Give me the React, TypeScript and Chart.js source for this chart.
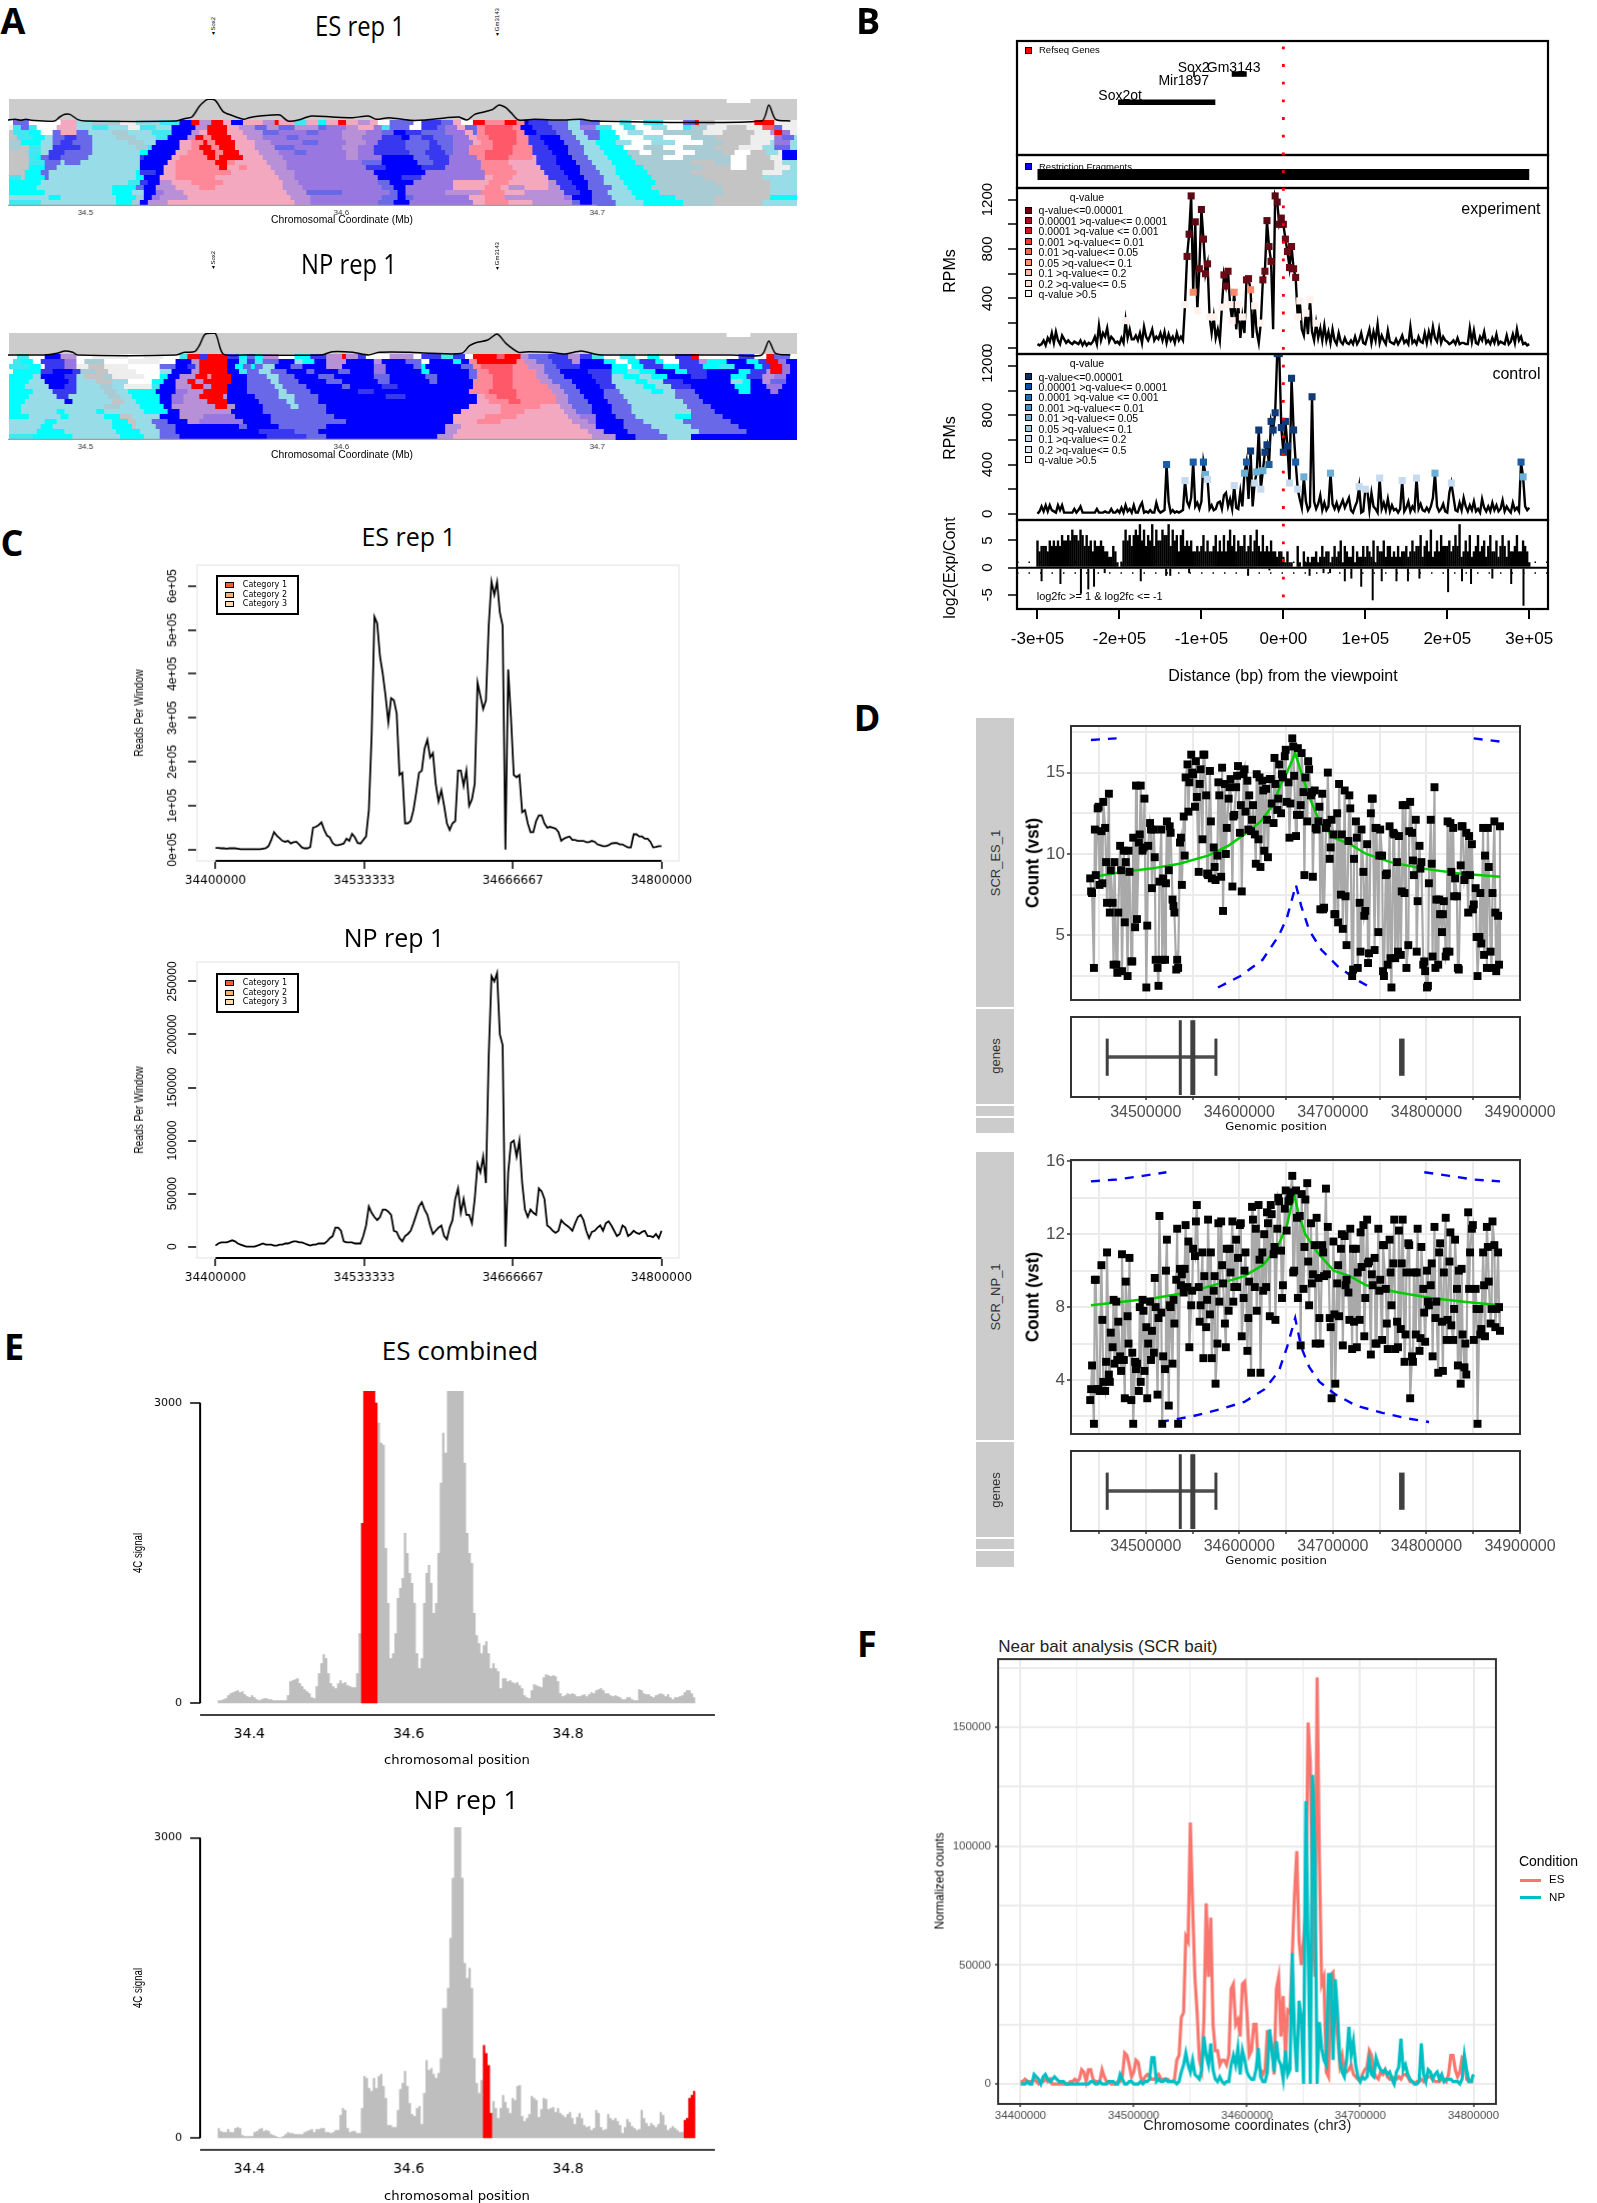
import { useEffect, useRef } from "react"
import { Chart, registerables } from "chart.js"

Chart.register(...registerables)

const SANS = "Liberation Sans"
const WIDE = "DejaVu Sans"
const TITLE = "Open Sans"

// --- panel A: contact map, one string per row, letter + end column
const heatPalette: Record<string, string> = {
  w: "#ffffff", l: "#eeeeee", g: "#c4c4c4", t: "#a9cbd3", a: "#98dce8", m: "#40e8f0", c: "#00ffff",
  b: "#0000ff", d: "#3838f0", e: "#6868e8", p: "#9878e0", q: "#b890d8", k: "#f4a8c0", s: "#ff8898",
  x: "#ff5868", r: "#ff0000", h: "#cccccc",
}
const bandRows = ["h199", "h199", "h181 w187 h199"]
const esRows = [
  "w1e5w13k17a21t28l32a38m43b46r48q51r54k56b59k64q67r68k72m75k78c80k83r85k88q91k93w96e102w104d109e112k114w117r120s125r128s130b131d136e141a144e149w154m157w160m165w170e173r174g178l188r193l199",
  "l1m3e5m7w12k17a21m25a30l33m37a41b47q50r55k58q62e65q68e72q78e80p85q88k92p94m96e101w104d108e110p113k115e118s120x127s129b132d137e141a144p148m152w155m158w162a166w170m172t176l181g186l190x193e195l199",
  "g1m5c8w11e13k17e20a26t30a36m41b46q48k50r55k59q64e68p75e78p84q90p94e97b100d104e110p115k117e118s120x128s130b133d138e142a145e149c153w156a160w165t175l180g188l192q193r195p197l199",
  "g2m6c9a11e14d17e21a27t32a37m40b45q47r49s51r56k60q64p70e73p84q89p94d99b101e104d107e112p116k118s121x128s131d134b139e143a146e149c154w160a165w172t178g187l193p195e198a199",
  "t3c8a11e13d16e21a30t34a37b43k46s49r50s52r57k62q66p74e78p85q90p93d100e106d108e112p117k119s122x128s131d135b140e144a148c153a157w162a168w175t180g187l192a193p197a199",
  "t3g5m8a11d18e21a32t35m36b43k46s48r51s53r57k62q67e72p84q88p92d100e106d109e112p116s122x127s132d136b141e145a149c155w160t165w170t178g184l190a193e197a199",
  "g4t5m8a10d14e21a33c35b42k45s49r52s54r58k63q68p72e75p85q88p92d101e105d110e112p116s120x127s132d137b141e145a150c156t159w162t168w173t180g183w187g191a194l195b199",
  "g5m7c8e10d13e20a33d34b41k43s50r52s53r59k64q69p85q88p94b102e106d111p118s120x126s132k133d138b142e146a151c157t165w170t182w186g192l195b199",
  "g5m9e13a14e18a33b40k42s52r55s57k65q70p89e94b103e107d111p119s126k133d138b143e147a152c158t172g178t182w186g193l195a199",
  "g5c9e12a33b39k42s53r55k58s60k66q70p90d95b104d110p119s127k134d139b144e148a153c160t175g182w186g193l197a199",
  "g4c8e10a32c33d37b39k42s56k67q72p92b105p120s128k135d140b144e149a153c161t172g190l195a199",
  "m3g4c9e10a32c34b38k42s52k68q72p93b99d104p120k122s127k136d141b145e150a154c162t175g190a199",
  "c8a30m33d35b38q41k46s54k69q73p93e96b102p112k121s126k136q138d142b146e150a155c163t178g192a199",
  "c7a26c32e34b37q42k48s52k69q74p94e97b100p112k120s124k126q130k136q139d143b146e152a156c162t180g192a199",
  "c9a26c31a34b37p39q44k70q75e84p96e98b100p110q119s125k130q140d144b147e151a157c164t180g192a199",
  "a10c13a27c32t34b36p38q45k71q76p94e98b100e102p116k120s125q140p142b147e152a158c168t178g192c199",
  "m8a27c31t33b35q40k72q76p93e97b101p117k120s126k132q142e144b147e153a160c170t178g190a199",
]
const npRows = [
  "w2m5w9b13q17w21l30w34l39w43m45r48d50r55d58c60e62c64q68w72c76d80q84r85q88d90w96q102w104d109m112d115w117r123x125r129q131e136d141q144d147m150w154m158w161c164w168d172r174w184d188w191r193e197w199",
  "w1m3c6w8d14p17w19t24w30l38w42b46q48r55b58m60d62m64e68b72a74c77b80q85b92q94b100e104w106b112c114b116s118r128s130q133e137d142q144b150c153w156c159d163c165w169d174q176c181b186c189d191r194p196b199",
  "m5c8w9d14p17l20g24l30w38e42b45d47q48r55b57c59e61c62e64a67b71e74b80q84b92p95b102e104c105b114e117s119x127s131q135e138d144b152c156w157c160d165c169d175c179m183b188c190d192r195p197b199",
  "w1c8d11b16d18t22g25l32w38a41b46q48r55b58m60e63a66e70b75e77b83e86b92p95b104c106b116e118s121x127s133q135e139b146d152c156a159c163b168c171d176b184c187d191q192r195p197b199",
  "c6a8b14d17a19g24t26l34w38c40b43q47r50s51r56b60e65a68e72b78e82b92e96b105e108b116e118s122x127s133q136e140b147d152a155c159a162c166b172d176b182c186d190q193p196b199",
  "c5a9b15d17a22g26a30w36c39b42q45r47q49r56b60e66a68e73b80e84b93e96b106e108b117s122x127s134q137e142b148d152a158c161a165d170b182a185c187b190q192e196b199",
  "c4a10b14d17a23t26a29l36m38b42q46r49q51r55b60e67a69e75b84e86b94d98b117s122x127s136q139e143b149d153a160c163a167d172b183c187b191p195b199",
  "c6a11d17a24t27a30c37b42p45q49r52q52r55b60e68a70e76b88d92b116s121x128s137q140e144b150e154a162c165a168e173b184c187b192p194b199",
  "c5a12d15a25t28a31c38b41p44q48r54q55b62e68a72e78b95d100b118k120s123x128s138q141e145b150e155a168e174b199",
  "c4a14b16a26g29a32c38b41p44q50r55b63e70a72e78b118k121s126x129s138q141e146b151e156a170e175b199",
  "c3a24t28a33c39b41q52r55q57b64e71a73e80b116k124s134k139q142e147b152e157a171e177b199",
  "c3a12c14a22c24a34c40b43q56b64e72e80b114k124s130k140q143e147b152e157a172e178b199",
  "c5a13c15a24c28g31a38b43q49p57b66e82b112k120s128k141q144p148b153e158a168c172e180b199",
  "a9c12a26c30g32a36e40b45q48p59b66e85b112k118s124k142q146p148b155e160a170e182b199",
  "a8c11a26c31g32a37e42b58e60b68e80b110q114k144q148b155e162a172e184b199",
  "a7c14a27c33a38e42b63d72e78b110q113k146q150b156e164a174e186b199",
  "m6c16a28c34a38e43b65d75e80b108q112k147q153b158e166a172b199",
]
const esTraceX = [34.4696, 34.4726, 34.4747, 34.4767, 34.4787, 34.4879, 34.4899, 34.4919, 34.4939, 34.497, 34.5, 34.5355, 34.5386, 34.5416, 34.5446, 34.5477, 34.5507, 34.5538, 34.5568, 34.5619, 34.5639, 34.568, 34.573, 34.576, 34.5791, 34.5832, 34.5882, 34.5964, 34.6045, 34.6106, 34.6136, 34.6187, 34.6268, 34.6329, 34.641, 34.646, 34.6491, 34.6521, 34.6562, 34.6592, 34.6616, 34.6643, 34.6663, 34.6693, 34.6754, 34.6856, 34.6937, 34.6988, 34.7643, 34.7671, 34.7697, 34.7755]
const esTraceY = [3, 5, 2, 5, 2, 0, 12, 20, 20, 4, 0, 0, 7, 12, 45, 65, 62, 28, 18, 5, 10, 15, 18, 18, 0, 3, 15, 12, 10, 15, 5, 10, 2, 3, 10, 12, 3, 20, 28, 35, 48, 40, 25, 3, 5, 3, 5, 0, 0, 48, 5, 0]
const npTraceX = [34.4696, 34.4838, 34.4889, 34.4919, 34.495, 34.497, 34.5355, 34.5386, 34.5426, 34.5446, 34.5467, 34.5507, 34.5538, 34.5619, 34.5923, 34.5964, 34.6045, 34.6106, 34.6147, 34.6268, 34.6349, 34.6471, 34.6501, 34.6531, 34.6572, 34.6609, 34.6643, 34.6693, 34.6734, 34.6815, 34.6876, 34.6937, 34.6988, 34.7018, 34.7526, 34.7643, 34.7671, 34.7697, 34.7755]
const npTraceY = [0, 0, 5, 12, 8, 0, 0, 8, 10, 30, 62, 65, 3, 0, 0, 10, 8, 0, 8, 8, 5, 5, 28, 38, 45, 63, 35, 8, 10, 8, 3, 12, 3, 0, 0, 0, 42, 5, 0]
const hicTicks = [34.5, 34.6, 34.7]

// --- panel B
const bpTicks = [-300000, -200000, -100000, 0, 100000, 200000, 300000]
const bpLabels = ["-3e+05", "-2e+05", "-1e+05", "0e+00", "1e+05", "2e+05", "3e+05"]
const geneStart = [-201700, -63000, -110000]
const geneEnd = [-83000, -44700, -108000]
const geneLane = [0.463, 0.71, 0.71]
const experimentRpm = [
  30, 20, 30, 60, 20, 80, 50, 120, 40, 130, 60, 30, 100, 70, 40, 60, 40, 30, 50, 40,
  30, 60, 20, 50, 20, 40, 30, 50, 90, 30, 180, 60, 120, 90, 160, 50, 90, 70, 40, 50,
  30, 80, 40, 220, 80, 150, 70, 70, 100, 60, 120, 40, 170, 90, 60, 100, 150, 60, 90, 70,
  120, 60, 130, 40, 110, 60, 90, 40, 120, 60, 90, 60, 350, 740, 920, 1230, 450, 1020, 300, 640,
  1120, 880, 600, 680, 250, 120, 250, 80, 150, 60, 330, 590, 500, 620, 350, 220, 450, 150, 350, 80,
  250, 120, 550, 560, 470, 80, 340, 130, 40, 200, 550, 620, 1030, 820, 700, 150, 1230, 1180, 1000, 1050,
  1000, 880, 780, 650, 820, 640, 570, 250, 380, 150, 100, 280, 110, 390, 130, 60, 200, 80, 160, 60,
  180, 60, 130, 40, 150, 60, 30, 120, 50, 30, 80, 40, 30, 60, 30, 90, 30, 60, 120, 40,
  30, 90, 150, 40, 130, 60, 190, 40, 100, 60, 30, 140, 50, 40, 30, 70, 30, 60, 100, 40,
  60, 30, 170, 40, 60, 30, 90, 50, 40, 120, 40, 130, 60, 170, 80, 50, 150, 40, 90, 60,
  50, 30, 40, 60, 30, 80, 30, 40, 40, 30, 30, 160, 50, 140, 40, 30, 90, 60, 130, 40,
  60, 30, 80, 40, 110, 30, 50, 40, 30, 100, 30, 50, 110, 40, 150, 60, 90, 30, 40, 20, 30,
]
const controlRpm = [
  0, 20, 60, 20, 70, 20, 70, 30, 20, 10, 70, 30, 70, 10, 10, 10, 10, 10, 40, 10,
  30, 60, 10, 10, 10, 10, 10, 10, 10, 40, 10, 10, 10, 20, 10, 10, 40, 10, 10, 30,
  10, 50, 10, 70, 20, 40, 10, 70, 10, 10, 60, 90, 10, 20, 10, 30, 10, 10, 90, 30,
  10, 20, 30, 400, 100, 10, 30, 10, 20, 10, 20, 30, 270, 100, 60, 130, 420, 60, 90, 40,
  100, 420, 320, 280, 40, 70, 30, 40, 90, 100, 40, 150, 170, 60, 120, 40, 230, 50, 40, 180,
  60, 330, 420, 120, 510, 60, 250, 340, 680, 200, 350, 500, 560, 400, 750, 680, 820, 1300, 1300, 700,
  500, 750, 550, 250, 1100, 680, 420, 200, 120, 50, 300, 100, 30, 60, 950, 100, 40, 80, 150, 30,
  90, 30, 60, 330, 80, 40, 90, 30, 70, 110, 50, 90, 130, 30, 10, 60, 100, 220, 10, 20,
  200, 190, 30, 170, 60, 40, 10, 290, 40, 90, 30, 120, 20, 70, 30, 40, 10, 40, 270, 20,
  50, 100, 20, 60, 30, 290, 40, 80, 30, 20, 50, 20, 60, 130, 330, 60, 20, 40, 80, 20,
  10, 170, 250, 140, 30, 20, 90, 30, 130, 60, 20, 70, 30, 100, 20, 40, 10, 120, 50, 20,
  60, 20, 90, 30, 70, 20, 40, 110, 20, 60, 30, 10, 90, 30, 50, 20, 420, 300, 60, 30, 50,
]
const logRatio = [
  5, 3, 4, 4, 4, 3, 5, 4, 5, 4, 5, 4, 6, 5, 5, 6, 5, 7, 6, 6,
  5, 7, 6, 4, 6, 4, 5, 3, 5, 4, 4, 5, 4, 3, 3, 2, 2, 4, 3, 1,
  0, 1, 5, 7, 5, 6, 4, 6, 7, 6, 8, 5, 7, 4, 6, 5, 8, 4, 7, 5,
  5, 7, 6, 6, 8, 4, 7, 5, 6, 3, 6, 7, 4, 5, 4, 5, 3, 3, 4, 3,
  4, 6, 3, 5, 3, 3, 4, 6, 3, 5, 3, 6, 3, 5, 7, 4, 6, 3, 5, 4,
  4, 6, 3, 4, 6, 3, 5, 7, 4, 3, 6, 3, 4, 3, 5, 3, 3, 2, 3, 3,
  2, 1, 3, 1, 1, 0, 0, 4, 1, 0, 3, 1, 2, 1, 2, 2, 3, 1, 2, 4,
  2, 3, 3, 1, 2, 4, 2, 3, 5, 1, 4, 3, 2, 2, 4, 1, 3, 2, 2, 4,
  2, 4, 3, 2, 5, 1, 4, 3, 3, 5, 2, 4, 4, 2, 3, 2, 4, 2, 3, 3,
  4, 2, 3, 5, 3, 4, 4, 6, 2, 4, 5, 3, 7, 2, 3, 5, 3, 6, 4, 4,
  4, 5, 3, 4, 6, 4, 8, 2, 3, 5, 3, 6, 2, 3, 4, 6, 3, 4, 5, 2,
  4, 6, 3, 3, 5, 2, 4, 6, 4, 2, 5, 3, 3, 4, 6, 3, 3, 5, 4, 3, 1,
]
const logDipX = [-295000, -272000, -247000, -238000, -231000, -218000, -174000, -143000, -138000, -115000, -43000, -17000, 32000, 49000, 57000, 75000, 83000, 95000, 109000, 120000, 138000, 152000, 166000, 201000, 218000, 229000, 255000, 278000, 293000]
const logDipY = [-2.5, -3, -4.8, -4, -3.5, -1, -2.5, -1.5, -1.5, -1, -1.5, -0.5, -1.5, -1, -1, -2.5, -2, -3.5, -6, -2.5, -2.5, -2.5, -2, -4.5, -2.5, -3, -2, -3, -7]
const qLabels = ["q-value<=0.00001", "0.00001 >q-value<= 0.0001", "0.0001 >q-value <= 0.001", "0.001 >q-value<= 0.01", "0.01 >q-value<= 0.05", "0.05 >q-value<= 0.1", "0.1 >q-value<= 0.2", "0.2 >q-value<= 0.5", "q-value >0.5"]
const qReds = ["#67000d", "#a50f15", "#cb181d", "#ef3b2c", "#fb6a4a", "#fc9272", "#fcbba1", "#fee0d2", "#fff5f0"]
const qBlues = ["#08306b", "#08519c", "#2171b5", "#4292c6", "#6baed6", "#9ecae1", "#c6dbef", "#deebf7", "#f7fbff"]

// --- panel C, in thousands of reads
const windowTicks = [34400000, 34533333, 34666667, 34800000]
const esReads = [
  4, 4, 3, 3, 2, 3, 3, 3, 2, 1, 1, 1, 1, 1, 1, 1, 1, 2, 3, 8,
  22, 40, 32, 26, 20, 18, 20, 14, 17, 18, 12, 5, 3, 3, 6, 50, 52, 56, 62, 45,
  32, 28, 15, 10, 10, 12, 14, 25, 20, 36, 28, 15, 14, 22, 30, 90, 260, 530, 515, 440,
  400, 350, 290, 345, 340, 310, 170, 175, 60, 60, 65, 90, 130, 175, 180, 230, 250, 210, 220, 150,
  110, 135, 100, 60, 45, 60, 65, 180, 180, 145, 180, 100, 115, 150, 380, 350, 320, 340, 510, 610,
  580, 610, 540, 510, 0, 410, 300, 170, 165, 170, 85, 90, 60, 40, 40, 65, 78, 78, 60, 50,
  52, 50, 48, 40, 20, 25, 28, 30, 22, 22, 20, 20, 20, 17, 17, 20, 18, 12, 10, 8,
  8, 10, 14, 15, 15, 12, 12, 8, 5, 5, 35, 35, 30, 30, 25, 25, 18, 5, 6, 8, 8,
]
const npReads = [
  1, 3, 4, 4, 4, 5, 6, 5, 3, 2, 1, 0, 0, 0, 0, 1, 2, 3, 2, 2,
  2, 1, 1, 2, 2, 3, 3, 4, 5, 5, 4, 4, 3, 2, 1, 2, 2, 3, 3, 3,
  5, 8, 10, 18, 18, 15, 5, 4, 4, 4, 3, 3, 3, 10, 20, 38, 32, 28, 25, 28,
  35, 35, 33, 30, 15, 14, 8, 5, 10, 12, 15, 22, 30, 38, 42, 35, 30, 20, 12, 15,
  18, 20, 10, 7, 18, 25, 45, 55, 32, 45, 30, 30, 22, 45, 78, 70, 85, 60, 180, 255,
  250, 258, 200, 190, 0, 70, 98, 100, 85, 100, 60, 35, 28, 35, 32, 30, 55, 52, 45, 20,
  18, 15, 13, 15, 25, 22, 20, 18, 15, 22, 28, 30, 25, 15, 8, 14, 15, 18, 20, 15,
  22, 24, 20, 15, 10, 12, 20, 18, 10, 12, 15, 13, 12, 14, 15, 10, 10, 9, 12, 8, 15,
]

// --- panel D
const countTicks = [34450000, 34500000, 34550000, 34600000, 34650000, 34700000, 34750000, 34800000, 34850000, 34900000]
const esCounts = [
  8.5, 7.6, 3.0, 8.7, 12.8, 8.1, 11.4, 13.2, 11.6, 7.0, 13.7,
  9.0, 7.0, 9.5, 3.2, 6.4, 10.5, 2.8, 10.2, 9.5, 2.5, 8.9, 3.4, 11.0, 5.5, 6.0, 10.7, 14.2, 10.2, 13.4, 1.8,
  10.5, 11.9, 7.9, 11.5, 3.5, 3.0, 8.3, 11.5, 8.5, 3.5, 12.0, 9.0, 11.3, 7.2, 6.4, 2.9, 3.0, 10.7, 8.1, 12.3,
  14.7, 15.5, 14.4, 16.1, 14.9, 12.9, 13.5, 8.9, 15.2, 10.9,
  16.1, 13.6, 8.7, 15.1, 8.5, 10.4, 8.4, 9.9, 13.6, 8.6,
  6.5, 14.3, 11.6, 13.4, 14.6, 8.0, 12.4, 14.1, 15.4, 11.3,
  7.7, 14.9, 12.6, 14.5, 13.6, 11.4, 13.0, 11.2, 14.9, 10.9,
  9.2, 14.5, 10.2, 14.0, 9.8, 14.6, 13.1, 11.9, 14.3, 12.7,
  15.5, 12.5, 14.7, 16.0, 13.2, 14.4, 13.1, 17.1, 14.8, 11.1,
  16.5, 12.4, 16.2, 13.8, 14.7, 12.0, 15.2, 13.6, 8.6, 13.9,
  11.5, 12.0, 6.6, 13.7, 6.7, 11.6, 15.0, 9.7, 12.1, 11.2,
  6.3, 12.5, 14.3, 7.5, 5.4, 13.9, 4.4, 10.8, 12.8, 2.5,
  9.7, 12.0, 3.0, 7.0, 11.5, 8.9, 6.5, 10.6, 3.9, 12.5,
  13.4, 4.1, 11.6, 5.2, 11.5, 9.9, 2.5, 8.7, 3.2, 11.7,
  1.8, 11.3, 3.6, 9.5, 11.1, 3.8, 13.0, 7.6, 3.0, 4.4,
  13.2, 11.3, 8.7, 12.1, 7.1, 10.5, 9.5, 3.2, 2.8, 1.8,
  8.2, 12.1, 3.7, 14.1, 7.2, 3.2, 6.3, 5.2, 7.1, 3.7,
  12.0, 4.0, 8.9, 11.6, 8.5, 7.4, 2.9, 9.3, 11.7, 8.4,
  11.3, 6.4, 8.7, 10.6, 6.9, 7.9, 2.5, 4.9, 4.5, 11.6,
  9.9, 3.0, 9.2, 4.0, 7.6, 12.0, 2.8, 6.2, 11.7,
]
// the fragments between the ones above, on a wider spacing
const esCountsBetween = [
  7.7, 11.5, 12.9, 8.2, 9.5, 6.4, 3.2, 2.7, 9.0, 5.8,
  10.2, 3.4, 14.2, 11.2, 10.4, 5.6, 11.5, 9.8, 1.9, 3.5,
  8.2, 11.7, 6.8, 3.5, 11.0, 9.9, 12.6, 15.0, 15.7, 14.3,
  16.1, 8.8, 12.0, 9.2, 14.4, 15.3, 10.0, 14.1, 12.3, 14.8,
  13.0, 15.2, 11.5, 12.1, 9.4, 14.7, 13.9, 12.1, 14.6, 15.9,
  13.4, 14.9, 16.4, 11.0, 16.6, 12.4, 13.0, 8.7, 15.7, 13.8,
  11.6, 12.9, 6.6, 11.9, 10.4, 6.3, 5.8, 11.2, 7.4, 13.6,
  2.9, 11.0, 4.0, 6.2, 3.3, 13.4, 11.6, 9.9, 2.8, 8.8,
  3.6, 11.2, 4.0, 7.7, 13.0, 11.4, 9.6, 4.0, 9.1, 3.4,
  1.9, 9.4, 3.0, 7.2, 6.3, 4.0, 11.9, 7.4, 3.0, 11.7,
  8.7, 11.1, 6.6, 4.9, 7.6, 3.8, 11.6, 3.0, 6.4, 3.2,
]
const npCounts = [
  2.9, 4.8, 1.6, 9.5, 3.5, 3.4, 10.3, 3.9, 3.4, 11.0, 4.3,
  6.6, 5.8, 4.9, 8.3, 7.2, 5.3, 10.9, 5.1, 9.4, 7.5, 10.7, 2.9, 1.6, 5.0, 4.9, 3.4, 3.9, 8.4, 4.5, 6.9,
  6.0, 8.3, 6.7, 5.5, 8.0, 3.2, 13.0, 7.7, 5.3, 4.6, 11.7, 2.6, 8.0, 4.9, 7.1, 9.5, 1.6, 10.1, 9.8, 8.8,
  12.5, 9.1, 5.8, 8.1, 11.2, 10.8, 13.6, 9.1, 8.1, 11.0,
  9.7, 6.9, 12.8, 7.6, 5.2, 8.9, 3.8, 6.0, 8.3, 12.7,
  9.3, 7.1, 11.2, 7.8, 9.9, 12.7, 9.1, 11.7, 10.7, 12.5,
  6.4, 8.5, 11.0, 5.6, 9.4, 4.4, 12.8, 9.1, 7.8, 13.6,
  4.4, 11.0, 12.0, 9.1, 12.6, 7.5, 13.1, 10.9, 7.3, 12.3,
  13.8, 11.1, 9.2, 13.4, 12.2, 13.8, 14.3, 15.2, 10.0, 14.4,
  8.5, 13.0, 14.2, 9.0, 13.9, 14.8, 8.1, 12.6, 9.8, 11.4,
  12.9, 9.6, 6.0, 11.4, 9.7, 14.5, 12.4, 7.4, 3.0, 11.6,
  3.8, 9.3, 7.5, 11.2, 5.9, 11.9, 9.5, 8.8, 12.3, 5.7,
  7.2, 11.2, 9.9, 7.3, 10.2, 12.5, 8.5, 12.8, 10.5, 5.4,
  9.2, 10.7, 6.0, 12.3, 9.5, 6.2, 11.4, 9.0, 5.7, 11.7,
  8.1, 10.4, 5.7, 7.2, 12.2, 6.8, 12.8, 5.0, 9.9, 11.5,
  3.0, 5.3, 9.9, 6.5, 12.3, 5.6, 11.3, 9.0, 6.1, 10.0,
  8.1, 9.2, 5.3, 12.4, 8.3, 4.4, 11.5, 7.2, 9.9, 12.9,
  7.3, 10.5, 7.0, 6.2, 11.7, 9.0, 10.0, 3.8, 6.5, 4.7,
  4.3, 13.2, 11.0, 12.3, 6.2, 9.0, 1.6, 7.9, 6.8, 11.0,
  6.4, 12.4, 9.4, 7.1, 12.7, 11.4, 7.9, 11.0, 6.7,
]
const npCountsBetween = [
  3.5, 9.5, 3.5, 7.3, 5.0, 3.9, 8.4, 5.1, 4.5, 3.0,
  6.0, 5.5, 4.6, 8.0, 7.8, 3.0, 5.1, 9.6, 7.4, 1.6,
  10.0, 8.1, 8.4, 12.3, 9.2, 10.1, 11.6, 8.9, 12.7, 7.2,
  5.2, 8.4, 11.0, 9.7, 12.6, 10.3, 5.8, 11.2, 8.3, 9.1,
  12.6, 10.0, 7.4, 13.5, 12.3, 10.6, 8.9, 13.2, 13.6, 11.3,
  14.0, 8.5, 14.4, 13.9, 9.9, 12.9, 5.9, 11.3, 10.5, 9.3,
  6.0, 7.4, 11.0, 9.8, 6.9, 7.6, 10.3, 12.0, 9.2, 7.3,
  11.2, 5.8, 12.1, 6.4, 10.4, 9.8, 6.0, 8.9, 11.4, 7.1,
  9.9, 12.8, 5.8, 10.4, 6.5, 11.4, 5.0, 9.9, 6.3, 7.7,
  8.3, 10.4, 7.4, 11.0, 4.5, 6.2, 12.1, 7.9, 4.8, 10.1,
  6.0, 9.0, 12.5, 7.9, 6.5, 9.2, 11.3, 7.9, 6.9, 8.0,
]
const esFitX = [34444900, 34475300, 34505600, 34536000, 34566400, 34588100, 34605400, 34622800, 34635800, 34644500, 34651000, 34659700, 34666200, 34674800, 34685700, 34700900, 34718200, 34735600, 34761600, 34796300, 34835400, 34878700]
const esFitY = [8.6, 8.9, 9.1, 9.4, 9.9, 10.5, 11.2, 12.0, 13.0, 14.3, 15.0, 16.2, 15.0, 13.5, 12.0, 11.0, 10.6, 10.0, 9.5, 9.1, 8.8, 8.6]
const esLowX = [34577200, 34601100, 34624900, 34642300, 34651000, 34660500, 34666200, 34674800, 34687900, 34705200, 34724700, 34736900]
const esLowY = [1.8, 2.5, 3.5, 5.0, 6.1, 8.1, 6.8, 5.3, 4.1, 3.1, 2.3, 1.9]
const esHighLeftX = [34441400, 34455000, 34468800]
const esHighLeftY = [17.0, 17.05, 17.1]
const esHighRightX = [34850500, 34865000, 34878700]
const esHighRightY = [17.1, 17.0, 16.9]
const npFitX = [34441400, 34475300, 34510000, 34544700, 34579400, 34605400, 34624900, 34640100, 34651000, 34658400, 34664000, 34670500, 34683500, 34700900, 34718200, 34735600, 34770300, 34805000, 34839700, 34878700]
const npFitY = [8.1, 8.3, 8.5, 8.8, 9.3, 9.7, 10.3, 11.2, 12.5, 14.2, 13.0, 12.0, 11.0, 10.0, 9.7, 9.2, 8.8, 8.5, 8.3, 8.1]
const npLowX = [34515200, 34549000, 34579400, 34605400, 34627100, 34642300, 34651000, 34659700, 34666200, 34674800, 34685700, 34703000, 34724700, 34752900, 34779000, 34802800]
const npLowY = [1.7, 2.0, 2.4, 2.8, 3.5, 4.5, 5.8, 7.4, 5.8, 4.7, 3.9, 3.2, 2.6, 2.2, 1.9, 1.7]
const npHighLeftX = [34441400, 34468800, 34497000, 34522100]
const npHighLeftY = [14.9, 15.0, 15.2, 15.4]
const npHighRightX = [34797700, 34824600, 34850500, 34878700]
const npHighRightY = [15.4, 15.2, 15.0, 14.9]
const trackX = [34458800, 34536900, 34550300, 34575000, 34773700]
const trackLow = [0.265, 0.025, 0.025, 0.265, 0.265]
const trackHigh = [0.73, 0.96, 0.96, 0.73, 0.73]

// --- panel E
const signalTicks = [34.4, 34.6, 34.8]
const esSignal = [
  30, 30, 40, 50, 80, 100, 110, 120, 130, 110, 120, 90, 70, 60, 80, 60, 40, 30, 40, 50,
  50, 40, 40, 30, 30, 30, 30, 30, 30, 80, 220, 230, 240, 250, 200, 170, 140, 120, 100, 60,
  50, 170, 300, 400, 490, 450, 300, 200, 170, 150, 200, 230, 200, 210, 180, 170, 160, 160, 300, 700,
  1800, 3300, 3300, 3300, 3300, 3300, 3000, 2800, 2600, 2580, 1550, 1000, 450, 500, 700, 1050, 1150, 1250, 1700, 1500,
  1300, 1200, 1000, 500, 350, 450, 1000, 1300, 1380, 1200, 900, 1000, 1500, 2200, 2700, 2500, 3300, 3300, 3300, 3300,
  3300, 3300, 3300, 2400, 1700, 1500, 1400, 900, 680, 600, 500, 580, 620, 500, 350, 400, 350, 320, 150, 250,
  250, 220, 230, 210, 200, 210, 180, 150, 80, 60, 50, 130, 190, 180, 170, 160, 260, 290, 280, 270,
  280, 270, 220, 100, 70, 80, 100, 90, 100, 90, 70, 70, 80, 90, 70, 90, 110, 100, 130, 140,
  150, 130, 100, 100, 80, 70, 80, 70, 60, 40, 40, 60, 60, 40, 30, 30, 140, 130, 100, 90,
  90, 70, 60, 80, 90, 100, 90, 70, 90, 60, 40, 60, 60, 70, 80, 110, 130, 130, 100, 60, 30,
]
const npSignal = [
  100, 70, 60, 60, 90, 60, 60, 100, 110, 100, 30, 20, 20, 20, 20, 60, 70, 90, 100, 70,
  80, 70, 40, 30, 20, 10, 10, 20, 40, 60, 50, 50, 40, 40, 40, 40, 60, 70, 80, 90,
  60, 90, 90, 100, 100, 60, 60, 50, 60, 80, 80, 230, 300, 280, 100, 60, 70, 70, 50, 50,
  300, 620, 600, 500, 470, 600, 500, 620, 640, 520, 400, 130, 130, 110, 110, 280, 490, 550, 670, 520,
  350, 240, 220, 300, 320, 140, 450, 780, 680, 700, 640, 600, 650, 800, 1300, 1300, 1500, 2000, 2600, 3300,
  3300, 3300, 2600, 1750, 1600, 1700, 1500, 800, 550, 450, 580, 930, 850, 730, 250, 370, 300, 200, 300, 430,
  360, 300, 250, 400, 380, 520, 530, 220, 170, 200, 240, 420, 400, 380, 210, 290, 400, 390, 290, 300,
  310, 260, 300, 250, 230, 210, 240, 260, 200, 140, 210, 250, 200, 130, 110, 120, 80, 100, 280, 250,
  110, 80, 90, 240, 200, 180, 200, 170, 130, 50, 110, 190, 160, 120, 100, 80, 90, 280, 200, 150,
  120, 150, 130, 110, 140, 260, 230, 130, 80, 100, 120, 100, 80, 60, 60, 180, 200, 400, 430, 470, 400,
]

// --- panel F, in thousands of counts
const coordTicks = [34400000, 34450000, 34500000, 34550000, 34600000, 34650000, 34700000, 34750000, 34800000]
const normTicks = [0, 25000, 50000, 75000, 100000, 125000, 150000, 175000]
const esNorm = [
  1, 1, 2, 1, 1, 1, 2, 1, 0, 1, 1, 2, 1, 2, 0, 0, 0, 0, 0, 0,
  0, 0, 1, 1, 2, 1, 2, 6, 5, 1, 6, 6, 2, 1, 1, 1, 6, 3, 1, 1,
  0, 0, 0, 1, 1, 3, 13, 12, 8, 3, 5, 10, 9, 3, 1, 3, 4, 3, 2, 2,
  3, 4, 2, 2, 2, 2, 1, 1, 2, 10, 12, 28, 30, 62, 60, 110, 75, 45, 30, 10,
  6, 27, 76, 45, 70, 25, 14, 14, 8, 10, 10, 8, 12, 40, 42, 25, 27, 20, 42, 43,
  30, 12, 14, 25, 25, 8, 6, 4, 6, 22, 22, 16, 4, 40, 45, 20, 37, 12, 31, 30,
  54, 80, 98, 60, 50, 61, 74, 152, 135, 70, 45, 171, 95, 42, 45, 5, 3, 46, 47, 33,
  20, 8, 12, 5, 5, 6, 8, 4, 3, 2, 1, 4, 6, 7, 14, 12, 5, 3, 2, 5,
  4, 6, 3, 2, 3, 2, 2, 3, 2, 4, 4, 3, 1, 1, 0, 1, 1, 2, 1, 2,
  3, 3, 2, 1, 1, 1, 2, 2, 1, 4, 12, 12, 6, 3, 5, 11, 10, 2, 1, 1, 1,
]
const npNorm = [
  0, 0, 0, 1, 0, 0, 4, 3, 2, 0, 3, 4, 2, 1, 2, 3, 2, 1, 1, 1,
  0, 0, 0, 0, 0, 0, 0, 0, 0, 0, 0, 1, 1, 0, 0, 1, 0, 0, 0, 1,
  1, 1, 0, 0, 4, 2, 0, 0, 1, 1, 0, 0, 0, 1, 0, 1, 1, 2, 11, 11,
  1, 2, 1, 1, 2, 1, 1, 1, 1, 0, 1, 5, 8, 13, 8, 5, 10, 4, 3, 2,
  6, 20, 12, 8, 17, 6, 2, 1, 3, 1, 0, 1, 1, 8, 12, 8, 15, 4, 14, 10,
  5, 3, 2, 2, 6, 15, 3, 1, 1, 5, 23, 14, 5, 18, 10, 8, 2, 14, 4, 6,
  55, 20, 5, 35, 28, 0, 119, 60, 0, 130, 96, 0, 26, 15, 10, 8, 46, 46, 10, 44,
  30, 10, 5, 3, 10, 24, 12, 18, 8, 3, 1, 3, 2, 3, 10, 4, 3, 11, 8, 6,
  5, 6, 4, 5, 2, 0, 5, 7, 19, 6, 8, 4, 2, 1, 0, 0, 1, 17, 4, 1,
  6, 5, 2, 4, 5, 2, 4, 1, 2, 2, 2, 1, 1, 1, 0, 2, 12, 6, 1, 1, 4,
]

const series = (start: number, step: number, values: number[], scale = 1) =>
  values.map((v, i) => ({ x: start + i * step, y: v * scale }))
const zip = (xs: number[], ys: number[]) => xs.map((x, i) => ({ x, y: ys[i] }))

// axes take no room of their own, the margins around the plot are fixed
const zeroFit = (s: any) => {
  if (s.isHorizontal()) s.height = 0
  else s.width = 0
  s.paddingLeft = s.paddingRight = s.paddingTop = s.paddingBottom = 0
  // labels would otherwise be clipped to the (now empty) scale box
  s._computeLabelArea = () => undefined
}

const axis = (min: number, max: number, values: number[], o: any = {}) => ({
  type: "linear",
  min,
  max,
  offset: false,
  display: o.display ?? true,
  afterFit: zeroFit,
  afterBuildTicks: (s: any) => {
    s.ticks = values.map((value) => ({ value }))
  },
  ticks: {
    display: o.labels ?? true,
    autoSkip: false,
    maxRotation: 0,
    minRotation: 0,
    padding: o.pad ?? 3,
    color: o.color ?? "#000",
    font: { family: o.family ?? SANS, size: o.size ?? 12 },
    callback: o.format ?? ((v: number) => String(v)),
  },
  grid: {
    offset: false,
    drawOnChartArea: o.grid ?? false,
    drawTicks: (o.tick ?? 0) > 0,
    tickLength: o.tick ?? 0,
    tickColor: o.tickColor ?? "#000",
    tickWidth: o.tickWidth ?? 1.5,
    color: o.gridColor ?? "#ebebeb",
    lineWidth: o.gridWidth ?? 2,
  },
  border: { display: false },
})

const frame = (color: string, width: number) => ({
  id: "frame",
  afterDatasetsDraw(chart: any) {
    const { ctx, chartArea: a } = chart
    ctx.save()
    ctx.strokeStyle = color
    ctx.lineWidth = width
    ctx.strokeRect(a.left, a.top, a.right - a.left, a.bottom - a.top)
    ctx.restore()
  },
})

// R style axis line, only from first to last tick
const spanLine = (id: string, width = 2) => ({
  id: "spanLine" + id,
  afterDraw(chart: any) {
    const { ctx, chartArea: a } = chart
    const s = chart.scales[id]
    const px = s.ticks.map((t: any) => s.getPixelForValue(t.value))
    ctx.save()
    ctx.strokeStyle = "#000"
    ctx.lineWidth = width
    ctx.beginPath()
    if (s.isHorizontal()) {
      ctx.moveTo(px[0], a.bottom)
      ctx.lineTo(px[px.length - 1], a.bottom)
    } else {
      ctx.moveTo(a.left, px[0])
      ctx.lineTo(a.left, px[px.length - 1])
    }
    ctx.stroke()
    ctx.restore()
  },
})

// y tick labels turned on their side, as base R draws them
const sideLabels = (id: string, offset: number, size: number, color = "#000") => ({
  id: "sideLabels" + id,
  afterDraw(chart: any) {
    const { ctx, chartArea: a } = chart
    const s = chart.scales[id]
    ctx.save()
    ctx.fillStyle = color
    ctx.font = `${size}px "${SANS}"`
    ctx.textAlign = "center"
    ctx.textBaseline = "middle"
    s.ticks.forEach((t: any) => {
      if (!t.label) return
      ctx.save()
      ctx.translate(a.left - offset, s.getPixelForValue(t.value))
      ctx.rotate(-Math.PI / 2)
      ctx.fillText(t.label, 0, 0)
      ctx.restore()
    })
    ctx.restore()
  },
})

function Plot({ box, config, m = 70, stretch = 1 }: { box: number[]; config: any; m?: number; stretch?: number }) {
  const ref = useRef<HTMLCanvasElement>(null)
  const [l, t, r, b] = box
  useEffect(() => {
    if (!ref.current) return
    const chart = new Chart(ref.current, {
      ...config,
      options: {
        ...config.options,
        responsive: false,
        animation: false,
        layout: { padding: m },
        plugins: { legend: { display: false }, tooltip: { enabled: false } },
      },
    })
    return () => chart.destroy()
  }, [])
  return (
    <canvas
      ref={ref}
      width={r - l + m * 2}
      height={b - t + m * 2}
      style={{
        position: "absolute",
        left: l - m,
        top: t - m,
        width: r - l + m * 2,
        height: b - t + m * 2,
        transform: `scaleX(${stretch})`,
        transformOrigin: `${m}px 0`,
      }}
    />
  )
}

function T({ x, y, text, size = 12, font = SANS, color = "#000", weight = 400, anchor = "middle", rotate = 0, sx = 1 }: any) {
  const dx = anchor === "middle" ? "-50%" : anchor === "end" ? "-100%" : "0"
  return (
    <div
      style={{
        position: "absolute",
        left: x,
        top: y,
        fontFamily: font,
        fontSize: size,
        fontWeight: weight,
        color,
        lineHeight: 1,
        whiteSpace: "pre",
        transformOrigin: anchor === "start" ? "0 50%" : "50% 50%",
        transform: `translate(${dx},-50%) rotate(${rotate}deg) scaleX(${sx})`,
      }}
    >
      {text}
    </div>
  )
}

const Rect = ({ x, y, w, h, fill, border }: any) => (
  <div style={{ position: "absolute", left: x, top: y, width: w, height: h, background: fill, border, boxSizing: "border-box" }} />
)

const expandRow = (row: string) => {
  const out: string[] = []
  for (const [, key, end] of row.matchAll(/([a-z])(\d+)/g)) {
    while (out.length < +end) out.push(heatPalette[key])
  }
  return out
}

function heatConfig(rows: string[], traceX: number[], traceY: number[]) {
  const labels = expandRow("h199").map((_, i) => i)
  // a full pixel of overlap so no seams show between the cells
  const cell = { borderWidth: 0, inflateAmount: 1, categoryPercentage: 1, barPercentage: 1 }
  const rowSets = [...rows].reverse().map((row) => ({
    data: labels.map(() => 5),
    backgroundColor: expandRow(row),
    ...cell,
  }))
  const bandSets = bandRows.map((row, i) => ({
    data: labels.map(() => (i === 0 ? 12 : 5)),
    backgroundColor: expandRow(row),
    ...cell,
  }))
  return {
    type: "bar",
    data: {
      labels,
      datasets: [
        { type: "line", data: zip(traceX, traceY), xAxisID: "x2", yAxisID: "y2", borderColor: "#000", borderWidth: 1.5, pointRadius: 0, tension: 0.25 },
        { type: "line", data: zip([34.4697, 34.7], [-254, -254]), xAxisID: "x2", yAxisID: "y2", borderColor: "#a0a0a0", borderWidth: 2, pointRadius: 0 },
        ...rowSets,
        ...bandSets,
      ],
    },
    options: {
      scales: {
        x: { type: "category", stacked: true, display: false, afterFit: zeroFit, offset: true },
        y: { type: "linear", stacked: true, display: false, min: 0, max: 107, afterFit: zeroFit },
        x2: axis(34.4697, 34.7781, hicTicks, { size: 8, color: "#333", pad: 2, format: (v: number) => v.toFixed(1) }),
        y2: { type: "linear", display: false, min: -255, max: 66, afterFit: zeroFit },
      },
    },
  }
}

const bpMin = -325000
const bpMax = 322900
const bpHidden = () => axis(bpMin, bpMax, [], { display: false })
const hiddenY = (min: number, max: number) => axis(min, max, [], { display: false })

const redMarker = (v: number) => (v >= 900 ? "#5a0a14" : v >= 500 ? "#6a0a14" : v >= 400 ? "#fb8a6a" : "#fff1ec")
const blueMarker = (v: number) => (v >= 500 ? "#0f3c78" : v >= 400 ? "#1c5da8" : v >= 300 ? "#6baed6" : v >= 200 ? "#c6dbef" : "rgba(255,255,255,0)")

function rpmConfig(values: number[], marker: (v: number) => string, min: number, max: number) {
  return {
    type: "line",
    data: {
      datasets: [
        {
          data: series(-300000, 2500, values),
          borderColor: "#000",
          borderWidth: 2.4,
          pointStyle: "rect",
          pointRadius: (c: any) => (c.parsed.y >= 200 ? 5 : 0),
          pointBorderWidth: 0,
          pointBackgroundColor: (c: any) => marker(c.parsed.y),
        },
      ],
    },
    options: {
      scales: {
        x: bpHidden(),
        y: axis(min, max, [0, 200, 400, 600, 800, 1000, 1200], {
          labels: false,
          tick: 9,
          format: (v: number) => (v % 400 === 0 ? String(v) : ""),
        }),
      },
    },
    plugins: [frame("#000", 2.2), sideLabels("y", 28.7, 15)],
  }
}

const genesConfig = {
  type: "line",
  data: {
    datasets: geneStart.map((s, i) => ({
      data: zip([s, geneEnd[i]], [geneLane[i], geneLane[i]]),
      borderColor: "#000",
      borderWidth: i === 2 ? 6 : 5.5,
      pointRadius: 0,
    })),
  },
  options: { scales: { x: bpHidden(), y: hiddenY(0, 1) } },
  plugins: [frame("#000", 2.2)],
}

const fragmentsConfig = {
  type: "line",
  data: {
    datasets: [{ data: zip([-300000, 300000], [0.406, 0.406]), borderColor: "#000", borderWidth: 11, pointRadius: 0 }],
  },
  options: { scales: { x: bpHidden(), y: hiddenY(0, 1) } },
  plugins: [frame("#000", 2.2)],
}

const logConfig = {
  type: "bar",
  data: {
    datasets: [
      { type: "line", data: zip([bpMin, bpMax], [0, 0]), borderColor: "#000", borderWidth: 2, pointRadius: 0 },
      { type: "line", data: zip([bpMin, bpMax], [1, 1]), borderColor: "#000", borderWidth: 1.5, borderDash: [1.5, 10], pointRadius: 0 },
      { type: "line", data: zip([bpMin, bpMax], [-1, -1]), borderColor: "#000", borderWidth: 1.5, borderDash: [1.5, 10], pointRadius: 0 },
      { data: series(-300000, 2500, logRatio), backgroundColor: "#000", barThickness: 2.4, inflateAmount: 0, grouped: false },
      { data: zip(logDipX, logDipY), backgroundColor: "#000", barThickness: 2, inflateAmount: 0, grouped: false },
    ],
  },
  options: {
    scales: {
      x: axis(bpMin, bpMax, bpTicks, {
        tick: 10,
        tickWidth: 2,
        size: 17,
        pad: 10,
        format: (v: number) => bpLabels[bpTicks.indexOf(v)],
      }),
      y: axis(-7.6, 8.77, [-5, 0, 5], { labels: false, tick: 9, format: (v: number) => String(v) }),
    },
  },
  plugins: [frame("#000", 2.2), sideLabels("y", 28.7, 15)],
}

const dotsConfig = {
  type: "line",
  data: {
    datasets: [
      { data: zip([0, 0], [1, 0]), borderColor: "#ff0000", borderWidth: 2.8, borderDash: [2.8, 14.88], borderDashOffset: -5.4, pointRadius: 0 },
    ],
  },
  options: { scales: { x: bpHidden(), y: hiddenY(0, 1) } },
}

function readsConfig(values: number[], scale: number, min: number, max: number, ticks: number[], format: (v: number) => string) {
  return {
    type: "line",
    data: {
      datasets: [{ data: series(34400000, 2500, values, scale), borderColor: "#000", borderWidth: 1.8, pointRadius: 0 }],
    },
    options: {
      scales: {
        x: axis(34383500, 34815600, windowTicks, { tick: 8, tickWidth: 1.5, family: WIDE, size: 12, pad: 5 }),
        y: axis(min, max, ticks, { labels: false, tick: 9, format }),
      },
    },
    plugins: [frame("#f0f0f0", 2), spanLine("x"), sideLabels("y", 24.4, 12)],
  }
}

const dPanelX = (labels: boolean) =>
  axis(34420100, 34900000, countTicks, {
    grid: true,
    gridColor: "#ebebeb",
    gridWidth: 2,
    labels,
    tick: labels ? 3 : 0,
    tickColor: "#333",
    size: 16,
    color: "#4d4d4d",
    pad: 3,
    format: (v: number) => (v % 100000 === 0 ? String(v) : ""),
  })

function countsConfig(values: number[], between: number[], fit: any, low: any, hiA: any, hiB: any, yMin: number, yMax: number, ticks: number[], major: number) {
  const points = [...series(34440600, 2000, values), ...series(34441600, 4000, between)].sort((a, b) => a.x - b.x)
  const blue = { borderColor: "#0000ff", borderWidth: 2.4, borderDash: [9, 8], pointRadius: 0 }
  return {
    type: "line",
    data: {
      datasets: [
        { data: points, showLine: false, pointStyle: "rect", pointRadius: 5.6, pointBackgroundColor: "#000", pointBorderWidth: 0 },
        { data: fit, borderColor: "#00cd00", borderWidth: 2.5, pointRadius: 0 },
        { data: low, ...blue },
        { data: hiA, ...blue },
        { data: hiB, ...blue },
        { data: points, borderColor: "#a9a9a9", borderWidth: 2.2, pointRadius: 0 },
      ],
    },
    options: {
      scales: {
        x: dPanelX(false),
        y: axis(yMin, yMax, ticks, {
          grid: true,
          tick: 4,
          tickColor: (c: any) => (c.tick && c.tick.value % major === 0 ? "#333" : "rgba(0,0,0,0)"),
          size: 17,
          color: "#4d4d4d",
          pad: 2,
          format: (v: number) => (v % major === 0 ? String(v) : ""),
        }),
      },
    },
    plugins: [frame("#333", 2)],
  }
}

const trackConfig = {
  type: "line",
  data: {
    datasets: [
      ...trackX.map((x, i) => ({
        data: zip([x, x], [trackLow[i], trackHigh[i]]),
        borderColor: "#404040",
        borderWidth: i === 4 ? 5.5 : i === 2 ? 5 : 3,
        pointRadius: 0,
      })),
      { data: zip([trackX[0], trackX[3]], [0.5, 0.5]), borderColor: "#4d4d4d", borderWidth: 3.5, pointRadius: 0 },
    ],
  },
  options: { scales: { x: dPanelX(true), y: hiddenY(0, 1) } },
  plugins: [frame("#333", 2)],
}

function signalConfig(values: number[], reds: number[][], yMax: number) {
  const all = series(34.36, 0.003, values)
  const fill = { stepped: true, fill: "origin", borderWidth: 0, pointRadius: 0 }
  return {
    type: "line",
    data: {
      datasets: [
        ...reds.map(([a, b]) => ({ data: all.slice(a, b), backgroundColor: "#ff0000", ...fill })),
        { data: all, backgroundColor: "#bebebe", ...fill },
      ],
    },
    options: {
      scales: {
        x: axis(34.3382, 34.9844, signalTicks, { family: WIDE, size: 14, pad: 11, format: (v: number) => v.toFixed(1) }),
        y: axis(-117, yMax, [0, 3000], { family: WIDE, size: 11, tick: 10, pad: 8 }),
      },
    },
    plugins: [
      spanLine("y"),
      {
        id: "baseLine",
        afterDraw(chart: any) {
          const { ctx, chartArea: a } = chart
          ctx.save()
          ctx.strokeStyle = "#000"
          ctx.lineWidth = 1.5
          ctx.beginPath()
          ctx.moveTo(a.left, a.bottom)
          ctx.lineTo(a.right, a.bottom)
          ctx.stroke()
          ctx.restore()
        },
      },
    ],
  }
}

const normConfig = {
  type: "line",
  data: {
    datasets: [
      { data: series(34400000, 2000, npNorm, 1000), borderColor: "#00bfc4", borderWidth: 3.2, pointRadius: 0 },
      { data: series(34400000, 2000, esNorm, 1000), borderColor: "#f8766d", borderWidth: 3.2, pointRadius: 0 },
    ],
  },
  options: {
    scales: {
      x: axis(34380200, 34819900, coordTicks, {
        grid: true,
        gridWidth: (c: any) => (c.tick && c.tick.value % 100000 === 0 ? 2 : 1),
        tick: 3,
        tickColor: (c: any) => (c.tick && c.tick.value % 100000 === 0 ? "#333" : "rgba(0,0,0,0)"),
        size: 11.5,
        color: "#4d4d4d",
        pad: 2,
        format: (v: number) => (v % 100000 === 0 ? String(v) : ""),
      }),
      y: axis(-8410, 178700, normTicks, {
        grid: true,
        tick: 3,
        tickColor: (c: any) => (c.tick && c.tick.value % 50000 === 0 ? "#333" : "rgba(0,0,0,0)"),
        size: 11.5,
        color: "#4d4d4d",
        pad: 4,
        format: (v: number) => (v % 50000 === 0 ? String(v) : ""),
      }),
    },
  },
  plugins: [frame("#333", 2)],
}

function QLegend({ y, colors }: { y: number[]; colors: string[] }) {
  return (
    <>
      <T x={1087} y={y[0]} text="q-value" size={10.5} />
      {qLabels.map((label, i) => (
        <div key={label}>
          <Rect x={1024.7} y={y[i + 1] - 3.5} w={7} h={7} fill={colors[i]} border="1px solid #000" />
          <T x={1038.6} y={y[i + 1]} text={label} size={10.5} anchor="start" />
        </div>
      ))}
    </>
  )
}

function CatLegend({ x, y }: { x: number; y: number }) {
  const colors = ["#fc5a32", "#fdae6b", "#fddcae"]
  const rows = [10, 20, 29]
  return (
    <>
      <Rect x={x} y={y} w={83} h={40} border="2px solid #000" />
      {rows.map((dy, i) => (
        <div key={dy}>
          <Rect x={x + 9} y={y + dy - 3} w={9} h={6} fill={colors[i]} border="1px solid #000" />
          <T x={x + 27} y={y + dy} text={`Category ${i + 1}`} size={8} font={WIDE} anchor="start" />
        </div>
      ))}
    </>
  )
}

function Strips({ y, label, labelY, genesY }: { y: number[]; label: string; labelY: number; genesY: number }) {
  return (
    <>
      {[0, 2, 4, 6].map((i) => (
        <Rect key={i} x={975.8} y={y[i]} w={38.2} h={y[i + 1] - y[i]} fill="#cccccc" />
      ))}
      <T x={995.3} y={labelY} text={label} size={13} color="#333" rotate={-90} />
      <T x={995.3} y={genesY} text="genes" size={13} color="#333" rotate={-90} />
    </>
  )
}

export default function App() {
  return (
    <div style={{ position: "absolute", left: 0, top: 0, width: 1597, height: 2203, overflow: "hidden", background: "#fff" }}>
      {/* A */}
      <T x={13} y={21} text="A" size={36} font={TITLE} weight={700} />
      <T x={360} y={25} text="ES rep 1" size={28} font={TITLE} sx={0.85} />
      <T x={213.4} y={26} text="◂ Sox2" size={6} rotate={-90} />
      <T x={496.9} y={22} text="◂ Gm3143" size={6} rotate={-90} />
      <Plot box={[8, 99, 804, 206]} config={heatConfig(esRows, esTraceX, esTraceY)} stretch={0.9912} />
      <T x={342} y={220} text="Chromosomal Coordinate (Mb)" size={11.5} sx={0.9} />
      <T x={349.4} y={263} text="NP rep 1" size={28} font={TITLE} sx={0.85} />
      <T x={213.4} y={260} text="◂ Sox2" size={6} rotate={-90} />
      <T x={496.9} y={256} text="◂ Gm3143" size={6} rotate={-90} />
      <Plot box={[8, 333, 804, 440]} config={heatConfig(npRows, npTraceX, npTraceY)} stretch={0.9912} />
      <T x={342} y={455} text="Chromosomal Coordinate (Mb)" size={11.5} sx={0.9} />

      {/* B */}
      <T x={868} y={21} text="B" size={36} font={TITLE} weight={700} />
      <Plot box={[1016.5, 41, 1547.5, 155]} config={genesConfig} />
      <Plot box={[1016.5, 155, 1547.5, 188]} config={fragmentsConfig} />
      <Plot box={[1016.5, 188, 1547.5, 354]} config={rpmConfig(experimentRpm, redMarker, -50, 1294)} />
      <Plot box={[1016.5, 354, 1547.5, 520]} config={rpmConfig(controlRpm, blueMarker, -50, 1297)} />
      <Plot box={[1016.5, 520, 1547.5, 609.4]} config={logConfig} />
      <Plot box={[1016.5, 41, 1547.5, 609.4]} config={dotsConfig} />
      <Rect x={1024.7} y={46.9} w={7} h={7} fill="#ff0000" border="1px solid #000" />
      <T x={1039} y={50.4} text="Refseq Genes" size={9.5} anchor="start" />
      <T x={1098.3} y={95} text="Sox2ot" size={14} anchor="start" />
      <T x={1158.4} y={80.4} text="Mir1897" size={14} anchor="start" />
      <T x={1177.7} y={66.5} text="Sox2" size={14} anchor="start" />
      <T x={1206.8} y={66.5} text="Gm3143" size={14} anchor="start" />
      <Rect x={1024.7} y={163} w={7} h={7} fill="#0000ff" border="1px solid #000" />
      <T x={1039} y={166.5} text="Restriction Fragments" size={9.5} anchor="start" />
      <QLegend y={[196.9, 210.3, 220.5, 230.8, 241.5, 251.8, 262.5, 272.8, 283.5, 293.8]} colors={qReds} />
      <QLegend y={[362.9, 376.8, 386.6, 397.3, 407.6, 417.9, 428.6, 438.8, 449.6, 459.8]} colors={qBlues} />
      <T x={1540.5} y={208.5} text="experiment" size={16} anchor="end" />
      <T x={1540.5} y={374} text="control" size={16} anchor="end" />
      <T x={950} y={271.4} text="RPMs" size={16} rotate={-90} />
      <T x={950} y={437.5} text="RPMs" size={16} rotate={-90} />
      <T x={950} y={567.9} text="log2(Exp/Cont" size={16} rotate={-90} />
      <T x={1036.7} y={596.4} text="log2fc >= 1 & log2fc <= -1" size={11} anchor="start" />
      <T x={1283} y={676.3} text="Distance (bp) from the viewpoint" size={16} />

      {/* C */}
      <T x={12} y={543} text="C" size={36} font={TITLE} weight={700} />
      <T x={408.6} y={535.5} text="ES rep 1" size={25} font={TITLE} />
      <Plot box={[197.4, 565.1, 678.6, 861]} config={readsConfig(esReads, 1000, -25500, 647500, [0, 100000, 200000, 300000, 400000, 500000, 600000], (v) => `${v / 100000}e+05`)} />
      <T x={139} y={712.5} text="Reads Per Window" size={12} rotate={-90} sx={0.85} />
      <CatLegend x={215.8} y={575.3} />
      <T x={394} y={936.5} text="NP rep 1" size={25} font={TITLE} />
      <Plot box={[197.4, 962, 678.6, 1258]} config={readsConfig(npReads, 1000, -10650, 268300, [0, 50000, 100000, 150000, 200000, 250000], (v) => String(v))} />
      <T x={139} y={1110} text="Reads Per Window" size={12} rotate={-90} sx={0.85} />
      <CatLegend x={215.8} y={973.3} />

      {/* D */}
      <T x={867} y={718} text="D" size={36} font={TITLE} weight={700} />
      <Strips y={[718, 1006.7, 1009, 1104, 1105.7, 1116, 1118, 1132.7]} label="SCR_ES_1" labelY={863} genesY={1056} />
      <Plot box={[1070.9, 725.7, 1520.2, 1000]} config={countsConfig(esCounts, esCountsBetween, zip(esFitX, esFitY), zip(esLowX, esLowY), zip(esHighLeftX, esHighLeftY), zip(esHighRightX, esHighRightY), 1.03, 17.86, [2.5, 5, 7.5, 10, 12.5, 15, 17.5], 5)} />
      <Plot box={[1070.9, 1016.7, 1520.2, 1097]} config={trackConfig} />
      <T x={1032.3} y={863} text="Count (vst)" size={19} rotate={-90} weight={700} sx={0.9} />
      <T x={1275.7} y={1125.7} text="Genomic position" size={11} font={WIDE} sx={1.06} />
      <Strips y={[1152, 1440, 1442.3, 1536.7, 1539, 1548.7, 1551, 1566.7]} label="SCR_NP_1" labelY={1296.7} genesY={1490} />
      <Plot box={[1070.9, 1160, 1520.2, 1434]} config={countsConfig(npCounts, npCountsBetween, zip(npFitX, npFitY), zip(npLowX, npLowY), zip(npHighLeftX, npHighLeftY), zip(npHighRightX, npHighRightY), 1.04, 16.07, [2, 4, 6, 8, 10, 12, 14, 16], 4)} />
      <Plot box={[1070.9, 1451, 1520.2, 1531]} config={trackConfig} />
      <T x={1032.3} y={1297} text="Count (vst)" size={19} rotate={-90} weight={700} sx={0.9} />
      <T x={1275.7} y={1559.7} text="Genomic position" size={11} font={WIDE} sx={1.06} />

      {/* E */}
      <T x={14} y={1347} text="E" size={36} font={TITLE} weight={700} />
      <T x={460} y={1349.5} text="ES combined" size={26} font={TITLE} />
      <Plot box={[200, 1391.2, 714.5, 1715.3]} config={signalConfig(esSignal, [[60, 68]], 3117)} />
      <T x={138.3} y={1552.7} text="4C signal" size={12} rotate={-90} sx={0.8} />
      <T x={456.8} y={1760.4} text="chromosomal position" size={12} font={WIDE} sx={1.1} />
      <T x={466} y={1799.4} text="NP rep 1" size={26} font={TITLE} />
      <Plot box={[200, 1827.2, 714.5, 2150.2]} config={signalConfig(npSignal, [[111, 116], [195, 201]], 3106)} />
      <T x={138.3} y={1988.1} text="4C signal" size={12} rotate={-90} sx={0.8} />
      <T x={456.8} y={2195.8} text="chromosomal position" size={12} font={WIDE} sx={1.1} />

      {/* F */}
      <T x={867} y={1644} text="F" size={36} font={TITLE} weight={700} />
      <T x={998.2} y={1646} text="Near bait analysis (SCR bait)" size={17} anchor="start" color="#222" />
      <Plot box={[998.2, 1658.7, 1496, 2103.6]} config={normConfig} />
      <T x={1247.3} y={2124.8} text="Chromosome coordinates (chr3)" size={14.5} color="#222" />
      <T x={939} y={1881.3} text="Normalized counts" size={13} rotate={-90} sx={0.9} />
      <T x={1518.9} y={1860.9} text="Condition" size={14} anchor="start" />
      <Rect x={1520} y={1878.7} w={20.5} h={3} fill="#f8766d" />
      <T x={1549.1} y={1880.2} text="ES" size={11.5} anchor="start" />
      <Rect x={1520} y={1896.2} w={20.5} h={3} fill="#00bfc4" />
      <T x={1549.1} y={1897.7} text="NP" size={11.5} anchor="start" />
    </div>
  )
}
